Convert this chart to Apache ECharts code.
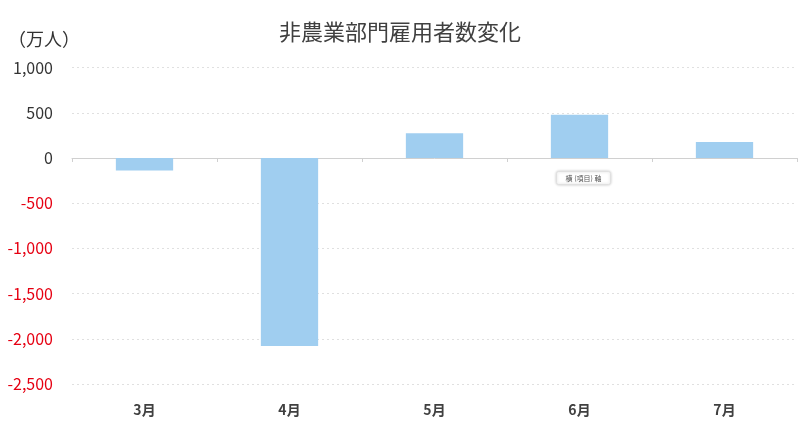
<!DOCTYPE html>
<html><head><meta charset="utf-8">
<script src="https://cdn.jsdelivr.net/npm/echarts@6/dist/echarts.min.js"></script>
<style>html,body{margin:0;padding:0;background:#fff}#c{width:800px;height:435px}</style>
</head><body><div id="c"></div>
<script>
const categories = ['3月','4月','5月','6月','7月'];
const values = [-137, -2079, 273, 478, 176];
const yMin = -2500, yMax = 1000, yStep = 500;
const titleText = '非農業部門雇用者数変化';
const unitText = '（万人）';
const noteText = '横 (項目) 軸';

const FONT = '"Noto Sans CJK JP", "Noto Sans", sans-serif';
const chart = echarts.init(document.getElementById('c'));
chart.setOption({
  animation: false,
  title: { text: titleText, left: 'center', top: 16,
    textStyle: { fontFamily: FONT, fontSize: 22, fontWeight: 'normal', color: '#404040' } },
  grid: { left: 72, right: 3, top: 67.6, bottom: 51 },
  xAxis: [
    { type: 'category', data: categories, position: 'bottom',
      axisLine: { onZero: true, lineStyle: { color: '#d0d0d0', width: 1 } },
      axisTick: { show: true, length: 4, lineStyle: { color: '#d0d0d0' } },
      axisLabel: { show: false } },
    { type: 'category', data: categories, position: 'bottom',
      axisLine: { show: false, onZero: false }, axisTick: { show: false },
      axisLabel: { margin: 19, fontFamily: FONT, fontSize: 14, color: '#404040', fontWeight: 'bold' } }
  ],
  yAxis: { type: 'value', min: yMin, max: yMax, interval: yStep,
    axisLine: { show: false }, axisTick: { show: false },
    splitLine: { lineStyle: { color: '#e0e0e0', type: [2, 3] } },
    axisLabel: { margin: 19, fontFamily: FONT, fontSize: 16,
      formatter: v => v.toLocaleString('en-US'),
      color: v => (Number(v) < 0 ? '#e60012' : '#333') } },
  series: [{ type: 'bar', xAxisIndex: 0, data: values, barWidth: '39.5%',
    itemStyle: { color: '#a0cef0' } }],
  graphic: [
    { type: 'text', left: 8, top: 30,
      style: { text: unitText, font: '18px ' + FONT, fill: '#333' } },
    { type: 'group', left: 556, top: 171, children: [
      { type: 'rect', shape: { x: 0, y: 0, width: 54, height: 13, r: 2 },
        style: { fill: '#fff', stroke: '#e0e0e0', shadowBlur: 3, shadowColor: 'rgba(0,0,0,0.2)' } },
      { type: 'text', x: 27, y: 6.5,
        style: { text: noteText, font: '7px ' + FONT, fill: '#555', align: 'center', verticalAlign: 'middle' } }
    ] }
  ]
});
</script></body></html>
